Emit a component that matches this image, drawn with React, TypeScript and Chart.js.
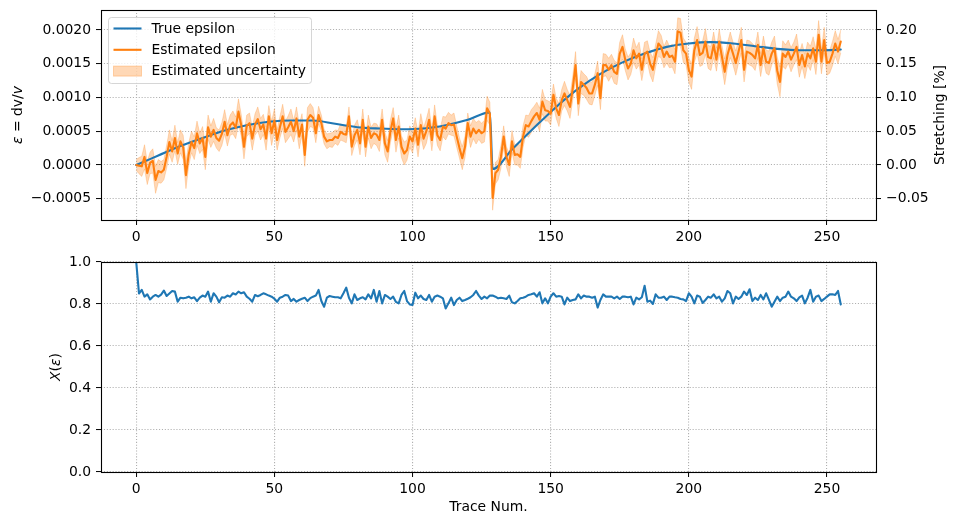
import React, { useEffect, useRef } from "react";
import { Chart, registerables } from "chart.js";

Chart.register(...registerables);

// ---------- data ----------
// Estimated dv/v per trace, in units of 1e-4
const estimatedEps = [
  0.0, -0.1, -0.2, 1.2, -1.2, 0.3, 0.6, -2.2, -0.9, -1.1,
  -0.7, 1.2, 3.4, 2.0, 4.0, 1.7, 3.5, 2.6, -1.5, 1.6,
  3.4, 2.5, 4.7, 3.2, 4.0, 1.2, 5.6, 4.2, 5.2, 4.0,
  3.6, 4.6, 6.4, 4.4, 5.9, 6.3, 5.5, 7.9, 5.9, 2.7,
  5.8, 6.2, 3.9, 6.0, 6.8, 5.3, 6.0, 3.9, 7.2, 4.7,
  6.6, 3.7, 5.6, 7.2, 4.9, 5.6, 6.4, 5.0, 6.9, 4.2,
  6.0, 1.5, 6.7, 7.4, 7.0, 4.7, 7.4, 6.2, 4.2, 3.5,
  3.7, 3.7, 4.2, 4.0, 4.9, 4.6, 4.5, 7.2, 2.7, 4.4,
  5.2, 3.2, 6.7, 2.7, 5.7, 4.0, 4.7, 4.5, 3.7, 6.7,
  3.2, 2.0, 5.0, 6.9, 3.7, 5.7, 2.7, 1.7, 2.2, 4.2,
  3.5, 5.4, 3.0, 5.9, 3.9, 5.0, 6.7, 3.7, 7.2, 4.4,
  3.7, 5.7, 5.4, 6.2, 5.9, 6.0, 4.2, 2.5, 1.0, 2.7,
  6.2, 4.2, 5.4, 4.7, 5.2, 4.7, 5.0, 8.4, 7.6, -4.9,
  -1.2, -0.7, 1.2, 4.2, 1.2, 0.0, 3.5, 1.5, 1.6, 1.2,
  4.2, 5.9, 5.7, 6.5, 7.2, 7.7, 6.7, 9.4, 8.1, 8.0,
  7.6, 10.4, 8.4, 7.4, 9.6, 10.6, 9.6, 8.6, 11.4, 14.8,
  9.1, 12.3, 11.9, 11.4, 10.6, 10.6, 11.9, 13.6, 9.9, 14.8,
  14.8, 14.1, 14.8, 13.8, 13.5, 16.5, 17.5, 15.6, 14.3, 15.0,
  17.0, 15.8, 16.5, 14.1, 16.5, 16.8, 15.0, 14.1, 16.2, 18.0,
  17.5, 16.0, 16.8, 16.0, 16.2, 15.3, 19.8, 19.6, 17.0, 16.5,
  14.1, 13.1, 17.0, 18.5, 16.3, 16.6, 18.3, 16.0, 15.8, 17.8,
  15.6, 18.3, 16.0, 13.8, 16.3, 17.8, 16.5, 15.1, 16.8, 18.5,
  14.1, 16.8, 16.6, 16.3, 15.8, 17.8, 14.8, 17.3, 15.3, 15.1,
  16.5, 17.3, 14.0, 12.3, 16.5, 16.0, 16.8, 15.6, 16.5, 17.5,
  14.8, 16.3, 14.6, 16.5, 15.8, 17.3, 15.3, 19.3, 15.3, 18.5,
  15.1, 15.3, 16.5, 18.0, 16.8, 18.3,
];

// One-sigma uncertainty of the estimate, in units of 1e-4
const uncertaintyEps = [
  0.8, 1.2, 1.5, 1.8, 1.7, 1.6, 1.8, 2.0, 1.7, 1.6,
  1.5, 1.7, 1.8, 1.6, 1.9, 1.6, 1.7, 1.8, 2.0, 1.7,
  1.6, 1.7, 1.8, 1.5, 1.7, 1.9, 1.8, 1.6, 1.7, 1.5,
  1.6, 1.7, 1.8, 1.6, 1.5, 1.7, 1.6, 1.9, 1.6, 1.8,
  1.6, 1.5, 1.7, 1.6, 1.8, 1.6, 1.5, 1.7, 1.6, 1.8,
  1.7, 1.5, 1.6, 1.8, 1.6, 1.7, 1.9, 1.6, 1.7, 1.8,
  1.6, 1.7, 1.8, 1.7, 1.5, 1.4, 1.3, 1.2, 1.1, 1.1,
  1.0, 1.1, 1.0, 1.1, 1.2, 1.1, 1.2, 1.4, 1.3, 1.5,
  1.5, 1.7, 1.6, 1.5, 1.7, 1.6, 1.5, 1.6, 1.7, 1.6,
  1.7, 1.6, 1.7, 1.6, 1.8, 1.7, 1.6, 1.7, 1.5, 1.6,
  1.7, 1.6, 1.8, 1.7, 1.6, 1.8, 1.7, 1.6, 1.7, 1.5,
  1.6, 1.5, 1.7, 1.6, 1.5, 1.7, 1.6, 1.5, 1.7, 1.6,
  1.5, 1.6, 1.5, 1.6, 1.4, 1.5, 1.6, 1.8, 1.7, 1.8,
  1.6, 1.5, 1.7, 1.6, 1.5, 1.7, 1.6, 1.5, 1.6, 1.7,
  1.6, 1.5, 1.6, 1.7, 1.5, 1.6, 1.7, 1.8, 1.6, 1.5,
  1.7, 1.6, 1.5, 1.7, 1.6, 1.8, 1.6, 1.7, 1.8, 2.0,
  1.8, 1.7, 1.6, 1.7, 1.6, 1.7, 1.6, 1.8, 1.7, 1.7,
  1.6, 1.7, 1.6, 1.7, 1.6, 1.7, 1.8, 1.6, 1.7, 1.6,
  1.8, 1.6, 1.7, 1.6, 1.7, 1.6, 1.7, 1.8, 1.7, 1.9,
  1.7, 1.6, 1.7, 1.6, 1.7, 1.8, 2.0, 2.1, 1.8, 1.7,
  1.8, 1.9, 1.8, 2.0, 1.7, 1.8, 1.9, 1.7, 1.8, 1.9,
  1.7, 1.8, 1.7, 1.9, 1.8, 1.9, 1.7, 1.8, 1.7, 1.9,
  1.8, 1.7, 1.8, 1.7, 1.8, 1.9, 1.7, 1.8, 1.7, 1.8,
  1.7, 1.8, 2.0, 2.2, 1.9, 1.8, 1.7, 1.8, 1.7, 1.9,
  1.8, 1.7, 1.8, 1.7, 1.8, 1.7, 1.9, 2.1, 1.8, 1.9,
  1.8, 1.7, 1.8, 1.9, 1.8, 1.7,
];

// True dv/v model, sampled at trace knots (units of 1e-4)
const trueTraces = [
  0, 8, 16, 24, 32, 40, 48, 56, 64, 72, 80, 88, 96, 104, 112, 120, 128,
  129, 136, 144, 152, 160, 168, 176, 184, 192, 200, 208, 216, 224, 232, 240, 248, 255,
];
const trueEps = [
  0.0, 1.4, 2.8, 4.0, 5.1, 5.9, 6.4, 6.6, 6.6, 6.1, 5.6, 5.4, 5.3, 5.4, 5.9, 6.7, 7.8,
  -0.6, 2.3, 5.5, 8.6, 11.3, 13.5, 15.2, 16.5, 17.5, 18.0, 18.2, 18.0, 17.6, 17.2, 17.0, 17.0, 17.1,
];

// Correlation coefficient X(eps) per trace
const correlation = [
  1.0, 0.850, 0.867, 0.835, 0.846, 0.822, 0.835, 0.843, 0.835, 0.845,
  0.864, 0.838, 0.850, 0.862, 0.859, 0.811, 0.830, 0.827, 0.830, 0.835,
  0.827, 0.832, 0.814, 0.830, 0.840, 0.835, 0.859, 0.811, 0.851, 0.835,
  0.808, 0.832, 0.830, 0.840, 0.835, 0.851, 0.845, 0.859, 0.851, 0.856,
  0.835, 0.825, 0.811, 0.843, 0.837, 0.843, 0.851, 0.846, 0.840, 0.835,
  0.825, 0.811, 0.830, 0.835, 0.843, 0.840, 0.814, 0.824, 0.811, 0.819,
  0.825, 0.830, 0.814, 0.828, 0.835, 0.840, 0.867, 0.814, 0.787, 0.830,
  0.838, 0.835, 0.832, 0.832, 0.827, 0.851, 0.878, 0.830, 0.803, 0.846,
  0.819, 0.827, 0.832, 0.822, 0.846, 0.827, 0.867, 0.811, 0.862, 0.803,
  0.843, 0.835, 0.824, 0.835, 0.810, 0.803, 0.843, 0.862, 0.814, 0.798,
  0.795, 0.854, 0.827, 0.840, 0.824, 0.819, 0.843, 0.811, 0.835, 0.840,
  0.835, 0.827, 0.779, 0.803, 0.830, 0.795, 0.819, 0.830, 0.814, 0.819,
  0.825, 0.832, 0.843, 0.862, 0.840, 0.824, 0.835, 0.827, 0.840, 0.840,
  0.835, 0.827, 0.830, 0.827, 0.824, 0.840, 0.808, 0.803, 0.814, 0.827,
  0.830, 0.835, 0.843, 0.846, 0.851, 0.835, 0.856, 0.803, 0.827, 0.803,
  0.835, 0.851, 0.835, 0.838, 0.835, 0.798, 0.830, 0.814, 0.819, 0.822,
  0.846, 0.827, 0.840, 0.835, 0.835, 0.830, 0.835, 0.783, 0.819, 0.846,
  0.835, 0.835, 0.835, 0.827, 0.835, 0.824, 0.835, 0.835, 0.832, 0.835,
  0.798, 0.830, 0.822, 0.832, 0.887, 0.811, 0.816, 0.800, 0.846, 0.830,
  0.830, 0.835, 0.819, 0.835, 0.835, 0.832, 0.830, 0.824, 0.822, 0.814,
  0.851, 0.835, 0.803, 0.840, 0.835, 0.805, 0.819, 0.835, 0.830, 0.846,
  0.827, 0.835, 0.811, 0.827, 0.862, 0.851, 0.803, 0.835, 0.824, 0.835,
  0.859, 0.843, 0.870, 0.814, 0.830, 0.819, 0.843, 0.822, 0.851, 0.820,
  0.787, 0.811, 0.835, 0.814, 0.830, 0.835, 0.859, 0.835, 0.827, 0.814,
  0.832, 0.840, 0.803, 0.830, 0.867, 0.811, 0.835, 0.840, 0.814, 0.824,
  0.835, 0.846, 0.846, 0.843, 0.862, 0.798,
];

// Axis ticks and limits
const traceTicks = [0, 50, 100, 150, 200, 250];
const traceRange = [-12.75, 267.75];
const epsTicks = [-0.0005, 0, 0.0005, 0.001, 0.0015, 0.002];
const epsRange = [-0.000815, 0.002296];
const stretchTicks = [-0.05, 0, 0.05, 0.1, 0.15, 0.2];
const corrTicks = [0, 0.2, 0.4, 0.6, 0.8, 1.0];
const corrRange = [0, 1];

// Axis labels as [text, italic] runs, mimicking math-text styling
const epsLabel: [string, boolean][] = [["\u03B5", true], [" = dv/", false], ["v", true]];
const corrLabel: [string, boolean][] = [["X", true], ["(", false], ["\u03B5", true], [")", false]];
const stretchLabel: [string, boolean][] = [["Stretching [%]", false]];

// ---------- styling ----------
const BLUE = "#1f77b4";
const ORANGE = "#ff7f0e";
const BAND = "rgba(255,127,14,0.3)";
const GRID = "#b0b0b0";
const FONT = "'DejaVu Sans', sans-serif";
const FONT_SIZE = 13.9;

const W = 957;
const TOP_H = 250;
const BOTTOM_TOP = 250;
const BOTTOM_H = 275;
const LEFT_W = 101;
const RIGHT_W = 81;

const minus = (s: string) => s.replace("-", "\u2212");

const setTicks = (values: number[]) => (scale: any) => {
  scale.ticks = values.map((v) => ({ value: v }));
};

const fitVertical = (width: number) => (s: any) => {
  s.width = width;
  s.paddingTop = 0;
  s.paddingBottom = 0;
};
const fitHorizontal = (height: number) => (s: any) => {
  s.height = height;
  s.paddingLeft = 0;
  s.paddingRight = 0;
};

const gridOpts = (onArea: boolean) => ({
  display: true,
  drawOnChartArea: onArea,
  drawTicks: true,
  tickLength: 5,
  tickWidth: 1,
  tickColor: "#000",
  tickBorderDash: [],
  color: GRID,
  lineWidth: 1.1,
});

// In Chart.js 4 the grid-line dash pattern lives under `border`
const dottedBorder = { display: false, dash: [1.1, 1.8] };

const tickFont = { family: FONT, size: FONT_SIZE };

// Draws a vertical (bottom-to-top) label made of styled runs
function drawRotatedLabel(ctx: CanvasRenderingContext2D, runs: [string, boolean][], cx: number, cy: number) {
  const fontFor = (it: boolean) => `${it ? "italic " : ""}${FONT_SIZE}px ${FONT}`;
  let total = 0;
  const widths = runs.map(([t, it]) => {
    ctx.font = fontFor(it);
    const w = ctx.measureText(t).width;
    total += w;
    return w;
  });
  ctx.save();
  ctx.translate(cx, cy);
  ctx.rotate(-Math.PI / 2);
  ctx.fillStyle = "#000";
  ctx.textAlign = "left";
  ctx.textBaseline = "middle";
  let x = -total / 2;
  runs.forEach(([t, it], k) => {
    ctx.font = fontFor(it);
    ctx.fillText(t, x, 0);
    x += widths[k];
  });
  ctx.restore();
}

// Black frame around the plotting area
const framePlugin = {
  id: "axesFrame",
  afterDraw(chart: any) {
    const { ctx, chartArea: a } = chart;
    ctx.save();
    ctx.strokeStyle = "#000";
    ctx.lineWidth = 1.1;
    ctx.strokeRect(
      Math.round(a.left) + 0.5,
      Math.round(a.top) + 0.5,
      Math.round(a.right - a.left),
      Math.round(a.bottom - a.top)
    );
    ctx.restore();
  },
};

const axisLabelsPlugin = (labels: { runs: [string, boolean][]; x: number }[]) => ({
  id: "axisLabels",
  afterDraw(chart: any) {
    const { ctx, chartArea: a } = chart;
    const cy = (a.top + a.bottom) / 2;
    labels.forEach((l) => drawRotatedLabel(ctx, l.runs, l.x, cy));
  },
});

// Legend box in the upper-left corner of the plotting area
const boxLegendPlugin = {
  id: "boxLegend",
  afterDraw(chart: any) {
    const { ctx, chartArea: a } = chart;
    const ds = chart.data.datasets;
    const items = [
      { label: ds[1].label, kind: "line", color: BLUE },
      { label: ds[0].label, kind: "line", color: ORANGE },
      { label: ds[3].label, kind: "patch", color: BAND },
    ];
    const x0 = a.left + 7.5;
    const y0 = a.top + 7.5;
    const w = 203;
    const h = 66;
    ctx.save();
    ctx.beginPath();
    ctx.roundRect(x0, y0, w, h, 3);
    ctx.fillStyle = "rgba(255,255,255,0.8)";
    ctx.fill();
    ctx.strokeStyle = "rgba(204,204,204,0.8)";
    ctx.lineWidth = 1;
    ctx.stroke();

    ctx.font = `${FONT_SIZE}px ${FONT}`;
    ctx.textBaseline = "middle";
    ctx.textAlign = "left";
    items.forEach((it, k) => {
      const cy = y0 + 11 + k * 21.3;
      const hx0 = x0 + 5;
      const hx1 = x0 + 33;
      if (it.kind === "line") {
        ctx.beginPath();
        ctx.moveTo(hx0, cy);
        ctx.lineTo(hx1, cy);
        ctx.strokeStyle = it.color;
        ctx.lineWidth = 2.1;
        ctx.stroke();
      } else {
        ctx.fillStyle = it.color;
        ctx.fillRect(hx0, cy - 5, hx1 - hx0, 10);
        ctx.strokeStyle = it.color;
        ctx.lineWidth = 1;
        ctx.strokeRect(hx0, cy - 5, hx1 - hx0, 10);
      }
      ctx.fillStyle = "#000";
      ctx.fillText(it.label, x0 + 43, cy + 0.5);
    });
    ctx.restore();
  },
};

const lineStyle = {
  borderWidth: 2.1,
  pointRadius: 0,
  borderJoinStyle: "round",
  borderCapStyle: "round",
};

function buildTopChart(canvas: HTMLCanvasElement) {
  const est = estimatedEps.map((v, i) => ({ x: i, y: v * 1e-4 }));
  const upper = estimatedEps.map((v, i) => ({ x: i, y: (v + uncertaintyEps[i]) * 1e-4 }));
  const lower = estimatedEps.map((v, i) => ({ x: i, y: (v - uncertaintyEps[i]) * 1e-4 }));
  const truth = trueTraces.map((t, k) => ({ x: t, y: trueEps[k] * 1e-4 }));

  return new Chart(canvas, {
    type: "line",
    data: {
      datasets: [
        {
          label: "Estimated epsilon",
          data: est,
          borderColor: ORANGE,
          ...lineStyle,
          tension: 0,
          order: 1,
        },
        {
          label: "True epsilon",
          data: truth,
          borderColor: BLUE,
          ...lineStyle,
          cubicInterpolationMode: "monotone",
          order: 2,
        },
        {
          label: "upper",
          data: upper,
          borderColor: BAND,
          borderWidth: 0.8,
          borderJoinStyle: "round",
          pointRadius: 0,
          fill: false,
          order: 3,
        },
        {
          label: "Estimated uncertainty",
          data: lower,
          borderColor: BAND,
          backgroundColor: BAND,
          borderWidth: 0.8,
          borderJoinStyle: "round",
          pointRadius: 0,
          fill: "-1",
          order: 4,
        },
      ],
    },
    options: {
      responsive: false,
      animation: false,
      devicePixelRatio: 1,
      layout: { padding: { top: 10, left: 0, right: 0, bottom: 0 } },
      plugins: {
        legend: { display: false },
        tooltip: { enabled: false },
        filler: { drawTime: "beforeDatasetsDraw" },
      },
      scales: {
        x: {
          type: "linear",
          min: traceRange[0],
          max: traceRange[1],
          afterBuildTicks: setTicks(traceTicks),
          afterFit: fitHorizontal(TOP_H - 220),
          grid: gridOpts(true),
          border: dottedBorder,
          ticks: { font: tickFont, color: "#000", padding: 4, maxRotation: 0 },
        },
        y: {
          type: "linear",
          position: "left",
          min: epsRange[0],
          max: epsRange[1],
          afterBuildTicks: setTicks(epsTicks),
          afterFit: fitVertical(LEFT_W),
          grid: gridOpts(true),
          border: dottedBorder,
          ticks: {
            font: tickFont,
            color: "#000",
            padding: 5,
            callback: (v: any) => minus(Number(v).toFixed(4)),
          },
        },
        y1: {
          type: "linear",
          position: "right",
          display: true,
          min: epsRange[0] * 100,
          max: epsRange[1] * 100,
          afterBuildTicks: setTicks(stretchTicks),
          afterFit: fitVertical(RIGHT_W),
          grid: gridOpts(false),
          border: dottedBorder,
          ticks: {
            font: tickFont,
            color: "#000",
            padding: 5,
            callback: (v: any) => minus(Number(v).toFixed(2)),
          },
        },
      },
    },
    plugins: [
      framePlugin,
      axisLabelsPlugin([
        { runs: epsLabel, x: 18 },
        { runs: stretchLabel, x: 940 },
      ]),
      boxLegendPlugin,
    ],
  } as any);
}

function buildBottomChart(canvas: HTMLCanvasElement) {
  const pts = correlation.map((v, i) => ({ x: i, y: v }));
  return new Chart(canvas, {
    type: "line",
    data: {
      datasets: [
        {
          label: "X(\u03B5)",
          data: pts,
          borderColor: BLUE,
          ...lineStyle,
          tension: 0,
        },
      ],
    },
    options: {
      responsive: false,
      animation: false,
      devicePixelRatio: 1,
      layout: { padding: { top: 12, left: 0, right: RIGHT_W, bottom: 0 } },
      plugins: {
        legend: { display: false },
        tooltip: { enabled: false },
      },
      scales: {
        x: {
          type: "linear",
          min: traceRange[0],
          max: traceRange[1],
          afterBuildTicks: setTicks(traceTicks),
          afterFit: fitHorizontal(BOTTOM_H - 222),
          grid: gridOpts(true),
          border: dottedBorder,
          ticks: { font: tickFont, color: "#000", padding: 4, maxRotation: 0 },
          title: {
            display: true,
            text: "Trace Num.",
            font: { family: FONT, size: FONT_SIZE },
            color: "#000",
            padding: { top: 0, bottom: 9 },
          },
        },
        y: {
          type: "linear",
          position: "left",
          min: corrRange[0],
          max: corrRange[1],
          afterBuildTicks: setTicks(corrTicks),
          afterFit: fitVertical(LEFT_W),
          grid: gridOpts(true),
          border: dottedBorder,
          ticks: {
            font: tickFont,
            color: "#000",
            padding: 5,
            callback: (v: any) => Number(v).toFixed(1),
          },
        },
      },
    },
    plugins: [framePlugin, axisLabelsPlugin([{ runs: corrLabel, x: 56 }])],
  } as any);
}

export default function App() {
  const topRef = useRef<HTMLCanvasElement>(null);
  const bottomRef = useRef<HTMLCanvasElement>(null);

  useEffect(() => {
    const top = buildTopChart(topRef.current!);
    const bottom = buildBottomChart(bottomRef.current!);
    return () => {
      top.destroy();
      bottom.destroy();
    };
  }, []);

  return (
    <div
      style={{
        position: "absolute",
        left: 0,
        top: 0,
        width: W,
        height: TOP_H + BOTTOM_H,
        background: "#fff",
        overflow: "hidden",
      }}
    >
      <canvas
        ref={topRef}
        width={W}
        height={TOP_H}
        style={{ position: "absolute", left: 0, top: 0, width: W, height: TOP_H }}
      />
      <canvas
        ref={bottomRef}
        width={W}
        height={BOTTOM_H}
        style={{ position: "absolute", left: 0, top: BOTTOM_TOP, width: W, height: BOTTOM_H }}
      />
    </div>
  );
}
